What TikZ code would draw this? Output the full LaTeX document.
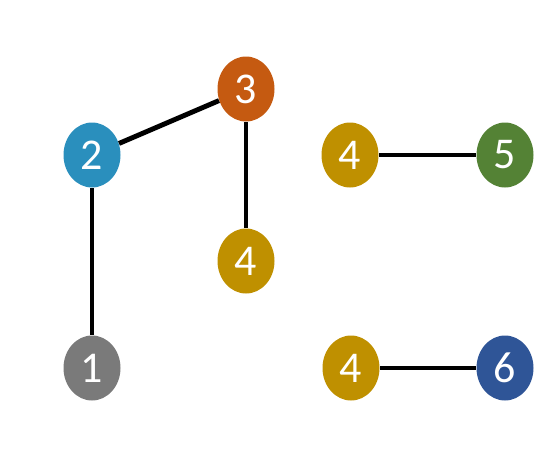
\documentclass[tikz,border=0pt]{standalone}
\usepackage{fontspec}
\setmainfont{Carlito}
\usetikzlibrary{shapes.geometric}
\definecolor{orangeN}{HTML}{C55A11}
\definecolor{blueN}{HTML}{2A8FBD}
\definecolor{goldN}{HTML}{BF9000}
\definecolor{grayN}{HTML}{7A7A7A}
\definecolor{greenN}{HTML}{548235}
\definecolor{navyN}{HTML}{2F5597}
\begin{document}
\begin{tikzpicture}[
    vertex/.style={ellipse, draw=none, fill=#1, text=white, minimum width=1.14cm, minimum height=1.3cm, inner sep=0pt, font=\fontsize{25}{25}\selectfont},
    link/.style={line width=2.8pt, black}
  ]
  \useasboundingbox (0,0) rectangle (11,9.14);

  % primer arbol
  \node[vertex=orangeN] (n3) at (4.92,7.36) {3};
  \node[vertex=blueN] (n2) at (1.84,6.04) {2};
  \node[vertex=goldN] (n4a) at (4.92,3.92) {4};
  \node[vertex=grayN] (n1) at (1.84,1.78) {1};

  % pares sueltos
  \node[vertex=goldN] (n4b) at (7.0,6.04) {4};
  \node[vertex=greenN] (n5) at (10.1,6.04) {5};
  \node[vertex=goldN] (n4c) at (7.02,1.78) {4};
  \node[vertex=navyN] (n6) at (10.1,1.78) {6};

  % aristas
  \draw[link] (n2) -- (n3);
  \draw[link] (n3) -- (n4a);
  \draw[link] (n2) -- (n1);
  \draw[link] (n4b) -- (n5);
  \draw[link] (n4c) -- (n6);
\end{tikzpicture}
\end{document}
